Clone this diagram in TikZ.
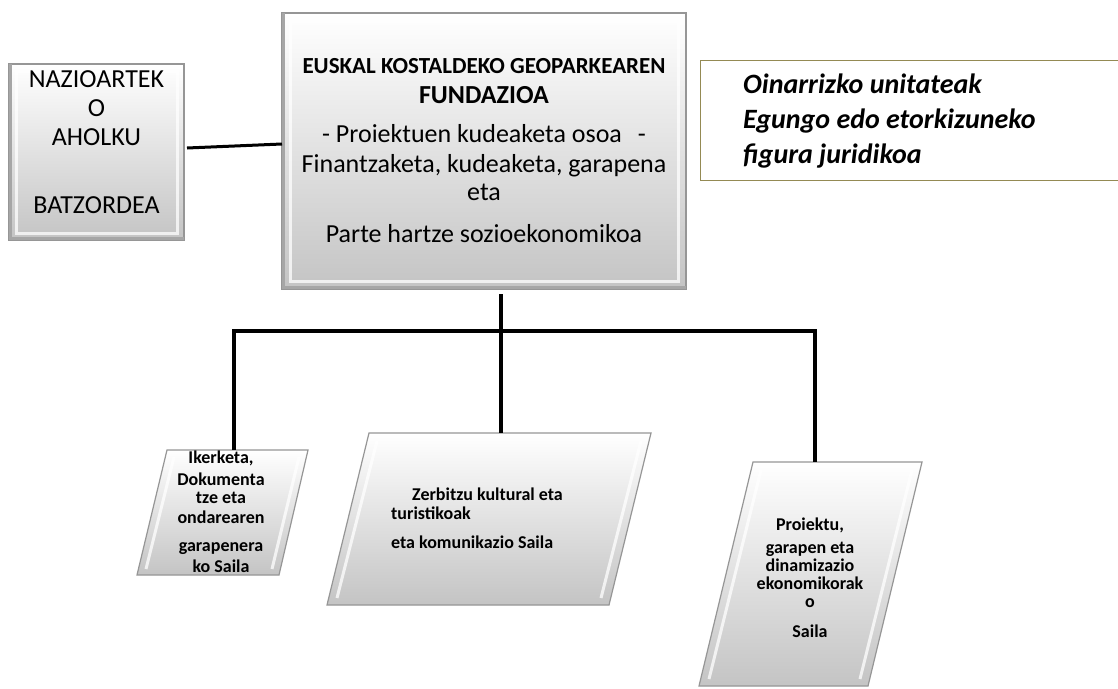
\documentclass[tikz,border=0pt]{standalone}
\usepackage{fontspec}
\setmainfont{Carlito}
\definecolor{boxbot}{RGB}{196,196,196}
\definecolor{boxedge}{RGB}{150,150,150}
\definecolor{legedge}{RGB}{148,138,84}
\newcommand\fsz[2]{\fontsize{#1}{#2}\selectfont}
\tikzset{
  bevelbox/.style={draw=boxedge, line width=1.2pt, top color=white, bottom color=boxbot,
    outer sep=0pt, inner sep=0pt},
  parabox/.style={draw=boxedge, line width=1.2pt, top color=white, bottom color=boxbot},
  hilite/.style={draw=white, line width=3pt, opacity=0.75},
  shadowedge/.style={draw=gray!70, line width=3pt},
  conn/.style={line width=3.6pt, black},
  thinconn/.style={line width=3pt, black},
  lbl/.style={inner sep=0pt, anchor=base},
  lblw/.style={inner sep=0pt, anchor=base west},
}
\begin{document}
\begin{tikzpicture}[x=1pt,y=-1pt]
\useasboundingbox (0,0) rectangle (1118,688);
\fill[white] (0,0) rectangle (1118,688);

% ---- advisory board box
\node[bevelbox, anchor=north west, minimum width=175pt, minimum height=176pt] (adv) at (9,64) {};
\draw[shadowedge] ([xshift=1.5pt]adv.north west) -- ([xshift=1.5pt,yshift=1.5pt]adv.south west) -- ([yshift=1.5pt]adv.south east);
\draw[hilite] ([xshift=7pt,yshift=-7pt]adv.north west) rectangle ([xshift=-7pt,yshift=7pt]adv.south east);
\node[lbl] (a1) at (96.5,87) {\fsz{26}{29}NAZIOARTEK};
\node[lbl] (a2) at (96.5,116) {\fsz{26}{29}O};
\node[lbl] (a3) at (96.5,145) {\fsz{26}{29}AHOLKU};
\node[lbl] (a4) at (96.5,213) {\fsz{26}{29}BATZORDEA};

% ---- main box
\node[bevelbox, anchor=north west, minimum width=404pt, minimum height=276pt] (main) at (282,13) {};
\draw[shadowedge] ([xshift=1.5pt]main.north west) -- ([xshift=1.5pt,yshift=1.5pt]main.south west) -- ([yshift=1.5pt]main.south east);
\draw[hilite] ([xshift=8pt,yshift=-8pt]main.north west) rectangle ([xshift=-8pt,yshift=8pt]main.south east);
\node[lbl] (m1) at (484,73) {\fsz{23}{28}\bfseries EUSKAL KOSTALDEKO GEOPARKEAREN};
\node[lbl] (m2) at (484,103) {\fsz{26}{29}\bfseries FUNDAZIOA};
\node[lbl] (m3) at (484,142) {\fsz{26}{29}- Proiektuen kudeaketa osoa\hspace{16pt}-};
\node[lbl] (m4) at (484,172) {\fsz{26}{29}Finantzaketa, kudeaketa, garapena};
\node[lbl] (m5) at (484,200) {\fsz{26}{29}eta};
\node[lbl] (m6) at (484,242) {\fsz{26}{29}Parte hartze sozioekonomikoa};

% ---- legend box
\node[draw=legedge, line width=1pt, anchor=north west, minimum width=440pt, minimum height=120pt, inner sep=0pt] (leg) at (700,60) {};
\node[lblw] (l1) at (743,93) {\fsz{28}{35}\bfseries\itshape Oinarrizko unitateak};
\node[lblw] (l2) at (743,128) {\fsz{28}{35}\bfseries\itshape Egungo edo etorkizuneko};
\node[lblw] (l3) at (743,163) {\fsz{28}{35}\bfseries\itshape figura juridikoa};

% ---- department shapes
\path[parabox] (167,450) -- (308,450) -- (279,575) -- (137,575) -- cycle;
\draw[hilite] (174,457) -- (146,569);
\draw[hilite] (299,457) -- (272,569);
\path[parabox] (369,433) -- (651,433) -- (609,605) -- (327,605) -- cycle;
\draw[hilite] (377,441) -- (337,598);
\draw[hilite] (641,441) -- (601,598);
\path[parabox] (753,462) -- (922,462) -- (868,686) -- (699,686) -- cycle;
\draw[hilite] (761,470) -- (709,679);
\draw[hilite] (912,470) -- (860,679);

\coordinate (pLtop) at (234,450);
\coordinate (pMtop) at (501,433);
\coordinate (pRtop) at (815,462);
\coordinate (jL) at (234,331);
\coordinate (jM) at (501,331);
\coordinate (jR) at (815,331);

\node[lbl] (d1a) at (221,463) {\fsz{18}{20}\bfseries Ikerketa,};
\node[lbl] (d1b) at (221,485) {\fsz{18}{20}\bfseries Dokumenta};
\node[lbl] (d1c) at (221,503) {\fsz{18}{20}\bfseries tze eta};
\node[lbl] (d1d) at (221,523) {\fsz{18}{20}\bfseries ondarearen};
\node[lbl] (d1e) at (221,551) {\fsz{18}{20}\bfseries garapenera};
\node[lbl] (d1f) at (221,572) {\fsz{18}{20}\bfseries ko Saila};

\node[lblw] (d2a) at (412,500) {\fsz{18}{20}\bfseries Zerbitzu kultural eta};
\node[lblw] (d2b) at (391,519) {\fsz{18}{20}\bfseries turistikoak};
\node[lblw] (d2c) at (391,548) {\fsz{18}{20}\bfseries eta komunikazio Saila};

\node[lbl] (d3a) at (810,530) {\fsz{18}{20}\bfseries Proiektu,};
\node[lbl] (d3b) at (810,553) {\fsz{18}{20}\bfseries garapen eta};
\node[lbl] (d3c) at (810,571) {\fsz{18}{20}\bfseries dinamizazio};
\node[lbl] (d3d) at (810,589) {\fsz{18}{20}\bfseries ekonomikorak};
\node[lbl] (d3e) at (810,607) {\fsz{18}{20}\bfseries o};
\node[lbl] (d3f) at (810,637) {\fsz{18}{20}\bfseries Saila};

% ---- connectors
\draw[thinconn] ([xshift=3pt,yshift=4pt]adv.east) -- ([yshift=7pt]main.west);
\draw[conn] ([xshift=17pt,yshift=-5pt]main.south) -- (jM);
\draw[conn] (pLtop) -- (jL) -- (jR) -- (pRtop);
\draw[conn] (jM) -- (pMtop);
\end{tikzpicture}
\end{document}
